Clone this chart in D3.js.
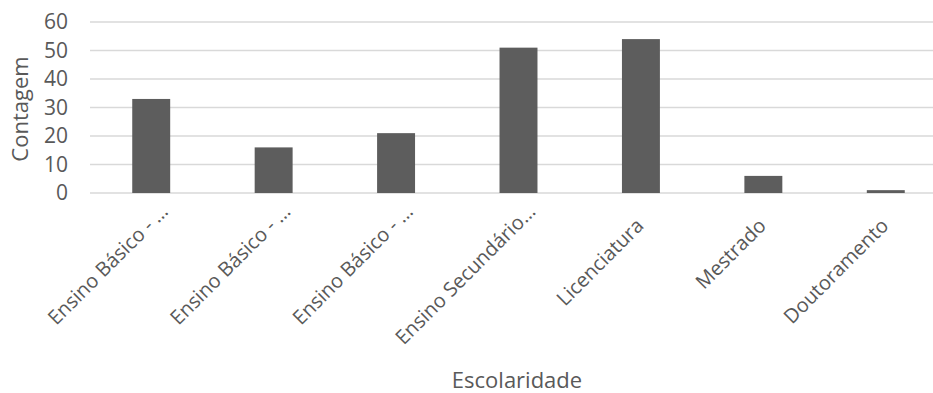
<!DOCTYPE html>
<html>
<head>
<meta charset="utf-8">
<script src="https://cdn.jsdelivr.net/npm/d3@7"></script>
<style>
  html, body { margin: 0; padding: 0; background: #fff; }
  svg { display: block; font-family: "Open Sans", "Noto Sans", sans-serif; }
</style>
</head>
<body>
<svg id="chart" width="933" height="393"></svg>
<script>
// Education level counts
const categories = ["Ensino Básico - …", "Ensino Básico - …", "Ensino Básico - …", "Ensino Secundário…", "Licenciatura", "Mestrado", "Doutoramento"];
const counts = [33, 16, 21, 51, 54, 6, 1];
const yTicks = [0, 10, 20, 30, 40, 50, 60];
const xTitle = "Escolaridade";
const yTitle = "Contagem";

const W = 933, H = 393;
const svg = d3.select("#chart");
const plot = { left: 90, right: 947, top: 22, bottom: 193 };
const textColor = "#595959";

const x = d3.scaleBand()
  .domain(d3.range(categories.length))
  .range([plot.left, plot.right])
  .paddingInner(0.69)
  .paddingOuter(0.345);

const y = d3.scaleLinear().domain([0, 60]).range([plot.bottom, plot.top]);

// Horizontal gridlines
svg.append("g")
  .selectAll("line")
  .data(yTicks)
  .join("line")
  .attr("x1", plot.left)
  .attr("x2", W)
  .attr("y1", d => y(d))
  .attr("y2", d => y(d))
  .attr("stroke", "#d9d9d9")
  .attr("stroke-width", 1.5);

// Y axis labels
const yAxis = d3.axisLeft(y).tickValues(yTicks).tickSize(0).tickPadding(0);
const yg = svg.append("g")
  .attr("transform", `translate(${plot.left - 22},0)`)
  .call(yAxis);
yg.select(".domain").remove();
yg.selectAll("text")
  .attr("fill", textColor)
  .style("font-size", "21px")
  .style("font-family", "'Open Sans', sans-serif");

// Bars
svg.append("g")
  .selectAll("rect")
  .data(counts)
  .join("rect")
  .attr("x", (d, i) => x(i))
  .attr("width", x.bandwidth())
  .attr("y", d => y(d))
  .attr("height", d => y(0) - y(d))
  .attr("fill", "#5d5d5d");

// Category labels, rotated 45°; shortened names keep room for their hidden tail
const xAxis = d3.axisBottom(x).tickSize(0).tickPadding(0).tickFormat(i => categories[i]);
const xg = svg.append("g")
  .attr("transform", `translate(0,${plot.bottom})`)
  .call(xAxis);
xg.select(".domain").remove();
xg.selectAll("text")
  .attr("fill", textColor)
  .style("font-size", "20px")
  .style("font-family", "'Open Sans', sans-serif")
  .attr("text-anchor", "end")
  .attr("y", 0)
  .attr("dy", 0)
  .attr("dx", i => categories[i].endsWith("…") ? "20px" : "0px")
  .attr("transform", "translate(4,34) rotate(-45)");

// Axis titles
svg.append("text")
  .attr("x", 517)
  .attr("y", 388)
  .attr("text-anchor", "middle")
  .attr("fill", textColor)
  .style("font-size", "22px")
  .text(xTitle);

svg.append("text")
  .attr("transform", "translate(28,109) rotate(-90)")
  .attr("text-anchor", "middle")
  .attr("fill", textColor)
  .style("font-size", "22px")
  .text(yTitle);
</script>
</body>
</html>
